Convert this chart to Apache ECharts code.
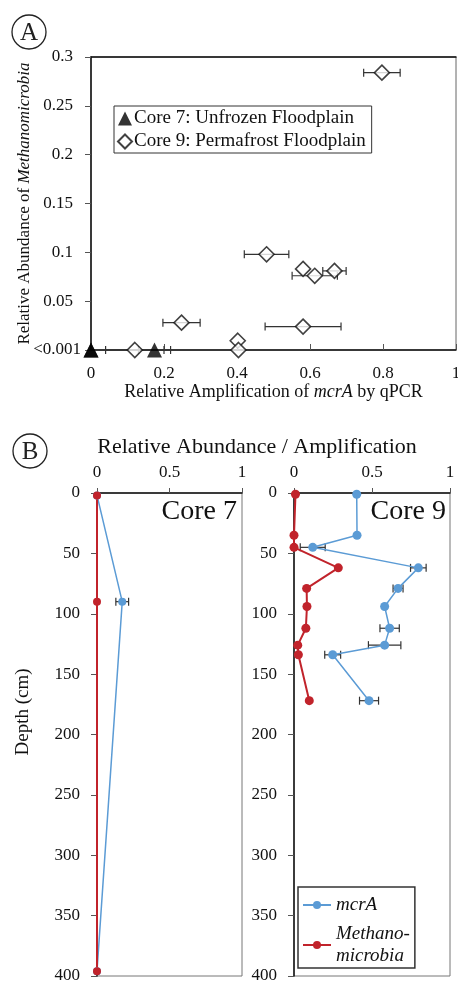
<!DOCTYPE html>
<html>
<head>
<meta charset="utf-8">
<script src="https://cdn.jsdelivr.net/npm/echarts@6/dist/echarts.min.js"></script>
<style>
  html, body { margin: 0; padding: 0; background: #fff; }
  #chart { width: 458px; height: 983px; }
</style>
</head>
<body>
<div id="chart"></div>
<script>
// core 7 (unfrozen floodplain)
const core7Depth = [2, 90, 396];
const core7Amp = [0, 0.174, 0];
const core7AmpErr = [0, 0.044, 0];
const core7Abund = [0, 0, 0];

// core 9 (permafrost floodplain)
const core9Depth = [1, 35, 45, 62, 79, 94, 112, 126, 134, 172];
const core9Amp = [0.402, 0.404, 0.12, 0.797, 0.667, 0.581, 0.613, 0.581, 0.248, 0.481];
const core9AmpErr = [0, 0, 0.08, 0.05, 0.032, 0, 0.062, 0.104, 0.051, 0.061];
const core9Abund = [0.0095, 0, 0, 0.284, 0.081, 0.083, 0.076, 0.024, 0.028, 0.098];

// tick labels
const ticksAmpA = ["0", "0.2", "0.4", "0.6", "0.8", "1"];
const ticksAbundA = ["<0.001", "0.05", "0.1", "0.15", "0.2", "0.25", "0.3"];
const ticksTopB = ["0", "0.5", "1"];
const ticksDepthB = ["0", "50", "100", "150", "200", "250", "300", "350", "400"];

const serif = "Liberation Serif";
const blue = "#5B9BD5";
const red = "#C1232B";

const myChart = echarts.init(document.getElementById("chart"));

function errorBar(params, api) {
  const err = api.value(2);
  if (!err) return null;
  const a = api.coord([api.value(0) - err, api.value(1)]);
  const b = api.coord([api.value(0) + err, api.value(1)]);
  const h = 4;
  const style = { stroke: "#333", lineWidth: 1.2 };
  return {
    type: "group",
    children: [
      { type: "line", shape: { x1: a[0], y1: a[1], x2: b[0], y2: b[1] }, style },
      { type: "line", shape: { x1: a[0], y1: a[1] - h, x2: a[0], y2: a[1] + h }, style },
      { type: "line", shape: { x1: b[0], y1: b[1] - h, x2: b[0], y2: b[1] + h }, style },
    ],
  };
}

const zip = (...arrs) => arrs[0].map((_, i) => arrs.map((a) => a[i]));

const labelStyle = { fontFamily: serif, fontSize: 17, color: "#111" };

const topAxisB = (gridIndex) => ({
  gridIndex,
  type: "value",
  position: "top",
  min: 0,
  max: 1,
  interval: 0.5,
  axisLine: { lineStyle: { color: "#111", width: 1.5 } },
  axisTick: { length: 5, lineStyle: { color: "#555" } },
  axisLabel: { ...labelStyle, margin: 12, formatter: (v, i) => ticksTopB[i] },
  splitLine: { show: false },
});

const depthAxisB = (gridIndex) => ({
  gridIndex,
  type: "value",
  inverse: true,
  min: 0,
  max: 400,
  interval: 50,
  axisLine: { lineStyle: { color: "#111", width: 1.5 } },
  axisTick: { length: 6, lineStyle: { color: "#555" } },
  axisLabel: { ...labelStyle, margin: 17, formatter: (v, i) => ticksDepthB[i] },
  splitLine: { show: false },
});

const option = {
  backgroundColor: "#fff",
  animation: false,
  textStyle: { fontFamily: serif },
  grid: [
    { left: 91, top: 57, width: 365, height: 293, outerBoundsMode: "none", containLabel: false, show: true, borderColor: "#666", borderWidth: 1 },
    { left: 97, top: 493, width: 145, height: 483, outerBoundsMode: "none", containLabel: false, show: true, borderColor: "#777", borderWidth: 1 },
    { left: 294, top: 493, width: 156, height: 483, outerBoundsMode: "none", containLabel: false, show: true, borderColor: "#777", borderWidth: 1 },
  ],
  legend: [
    {
      data: ["Core 7: Unfrozen Floodplain", "Core 9: Permafrost Floodplain"],
      orient: "vertical",
      left: 114,
      top: 106,
      padding: [3, 6, 2, 3],
      itemGap: 4,
      itemWidth: 14,
      itemHeight: 14,
      borderColor: "#333",
      borderWidth: 1,
      textStyle: { fontFamily: serif, fontSize: 19, color: "#111", padding: [0, 0, 0, -3] },
    },
    {
      data: ["mcrA", "Methanomicrobia"],
      orient: "vertical",
      left: 298,
      top: 887,
      height: 92,
      padding: [7, 5, 1, 4],
      itemGap: 7,
      itemWidth: 28,
      itemHeight: 10,
      borderColor: "#333",
      borderWidth: 1.5,
      formatter: (name) => (name === "Methanomicrobia" ? "Methano-\nmicrobia" : name),
      textStyle: { fontFamily: serif, fontSize: 19, fontStyle: "italic", color: "#111", lineHeight: 22 },
    },
  ],
  title: [
    {
      text: "Relative Abundance / Amplification",
      left: 252,
      top: 431,
      textAlign: "center",
      textStyle: { fontFamily: serif, fontSize: 22, fontWeight: "normal", color: "#111" },
    },
    {
      text: "Core 7",
      left: 232,
      top: 493,
      textAlign: "right",
      textStyle: { fontFamily: serif, fontSize: 28, fontWeight: "normal", color: "#111" },
    },
    {
      text: "Core 9",
      left: 441,
      top: 493,
      textAlign: "right",
      textStyle: { fontFamily: serif, fontSize: 28, fontWeight: "normal", color: "#111" },
    },
  ],
  graphic: [
    { type: "circle", shape: { cx: 29, cy: 32, r: 17 }, style: { fill: "none", stroke: "#222", lineWidth: 1.3 } },
    { type: "text", x: 29, y: 33, style: { text: "A", font: "25px " + serif, fill: "#222", align: "center", verticalAlign: "middle" } },
    { type: "circle", shape: { cx: 30, cy: 451, r: 17 }, style: { fill: "none", stroke: "#222", lineWidth: 1.3 } },
    { type: "text", x: 30, y: 452, style: { text: "B", font: "25px " + serif, fill: "#222", align: "center", verticalAlign: "middle" } },
    {
      type: "text",
      x: 23,
      y: 712,
      rotation: Math.PI / 2,
      style: { text: "Depth (cm)", font: "19px " + serif, fill: "#111", align: "center", verticalAlign: "middle" },
    },
  ],
  xAxis: [
    {
      gridIndex: 0,
      type: "value",
      min: 0,
      max: 1,
      interval: 0.2,
      name: "{a|Relative Amplification of }{b|mcrA}{a| by qPCR}",
      nameLocation: "middle",
      nameGap: 31,
      nameTextStyle: {
        rich: {
          a: { fontFamily: serif, fontSize: 18, color: "#111" },
          b: { fontFamily: serif, fontSize: 18, fontStyle: "italic", color: "#111" },
        },
      },
      axisLine: { lineStyle: { color: "#111", width: 1.5 } },
      axisTick: { inside: true, length: 6, lineStyle: { color: "#555" } },
      axisLabel: { ...labelStyle, margin: 15, formatter: (v, i) => ticksAmpA[i] },
      splitLine: { show: false },
    },
    {
      gridIndex: 0,
      type: "value",
      position: "top",
      min: 0,
      max: 1,
      axisLine: { lineStyle: { color: "#111", width: 1.5 } },
      axisTick: { show: false },
      axisLabel: { show: false },
      splitLine: { show: false },
    },
    topAxisB(1),
    topAxisB(2),
  ],
  yAxis: [
    {
      gridIndex: 0,
      type: "value",
      min: 0,
      max: 0.3,
      interval: 0.05,
      name: "{a|Relative Abundance of }{b|Methanomicrobia}",
      nameLocation: "middle",
      nameGap: 58,
      nameMoveOverlap: false,
      nameTextStyle: {
        rich: {
          a: { fontFamily: serif, fontSize: 17, color: "#111" },
          b: { fontFamily: serif, fontSize: 17, fontStyle: "italic", color: "#111" },
        },
      },
      axisLine: { lineStyle: { color: "#111", width: 1.5 } },
      axisTick: { length: 6, lineStyle: { color: "#555" } },
      axisLabel: {
        ...labelStyle,
        margin: 10,
        formatter: (v, i) => (i === 0 ? "{s|" + ticksAbundA[i] + "}" : "{n|" + ticksAbundA[i] + "}"),
        rich: {
          s: { fontFamily: serif, fontSize: 17, color: "#111", padding: [0, 0, 0, 0] },
          n: { fontFamily: serif, fontSize: 17, color: "#111", padding: [0, 8, 0, 0] },
        },
      },
      splitLine: { show: false },
    },
    depthAxisB(1),
    depthAxisB(2),
  ],
  series: [
    // panel A
    {
      name: "err",
      type: "custom",
      xAxisIndex: 0,
      yAxisIndex: 0,
      z: 1,
      renderItem: errorBar,
      data: zip(core7Amp, core7Abund, core7AmpErr),
    },
    {
      name: "err",
      type: "custom",
      xAxisIndex: 0,
      yAxisIndex: 0,
      z: 1,
      renderItem: errorBar,
      data: zip(core9Amp, core9Abund, core9AmpErr),
    },
    {
      name: "Core 9: Permafrost Floodplain",
      type: "scatter",
      xAxisIndex: 0,
      yAxisIndex: 0,
      z: 3,
      symbol: "diamond",
      symbolSize: 15,
      itemStyle: { color: "#fff", borderColor: "#111", borderWidth: 1.6 },
      data: zip(core9Amp, core9Abund),
    },
    {
      name: "Core 7: Unfrozen Floodplain",
      type: "scatter",
      xAxisIndex: 0,
      yAxisIndex: 0,
      z: 4,
      symbol: "triangle",
      symbolSize: 15,
      itemStyle: { color: "#000" },
      data: zip(core7Amp, core7Abund),
    },
    // panel B error bars
    {
      name: "err",
      type: "custom",
      xAxisIndex: 2,
      yAxisIndex: 1,
      z: 1,
      renderItem: errorBar,
      data: zip(core7Amp, core7Depth, core7AmpErr),
    },
    {
      name: "err",
      type: "custom",
      xAxisIndex: 3,
      yAxisIndex: 2,
      z: 1,
      renderItem: errorBar,
      data: zip(core9Amp, core9Depth, core9AmpErr),
    },
    // core 7 profiles
    {
      name: "mcrA",
      type: "line",
      xAxisIndex: 2,
      yAxisIndex: 1,
      symbol: "circle",
      symbolSize: 8,
      lineStyle: { color: blue, width: 1.5 },
      itemStyle: { color: blue },
      data: zip(core7Amp, core7Depth),
    },
    {
      name: "Methanomicrobia",
      type: "line",
      xAxisIndex: 2,
      yAxisIndex: 1,
      symbol: "circle",
      symbolSize: 8,
      lineStyle: { color: red, width: 2 },
      itemStyle: { color: red },
      data: zip(core7Abund, core7Depth),
    },
    // core 9 profiles
    {
      name: "mcrA",
      type: "line",
      xAxisIndex: 3,
      yAxisIndex: 2,
      symbol: "circle",
      symbolSize: 9,
      lineStyle: { color: blue, width: 1.5 },
      itemStyle: { color: blue },
      data: zip(core9Amp, core9Depth),
    },
    {
      name: "Methanomicrobia",
      type: "line",
      xAxisIndex: 3,
      yAxisIndex: 2,
      symbol: "circle",
      symbolSize: 9,
      lineStyle: { color: red, width: 2 },
      itemStyle: { color: red },
      data: zip(core9Abund, core9Depth),
    },
  ],
};

myChart.setOption(option);
</script>
</body>
</html>
